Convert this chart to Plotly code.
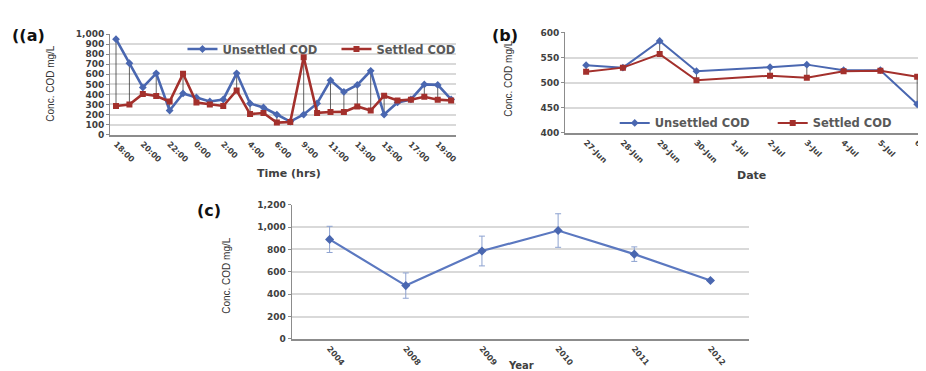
import plotly.graph_objects as go

# ---------------- data ----------------
time_labels = ["18:00", "19:00", "20:00", "21:00", "22:00", "23:00", "0:00", "1:00", "2:00",
               "3:00", "4:00", "5:00", "6:00", "8:00", "9:00", "10:00", "11:00", "12:00",
               "13:00", "14:00", "15:00", "16:00", "17:00", "18:00", "19:00", "20:00"]
unsettled_a = [950, 710, 470, 610, 240, 410, 370, 330, 350, 610, 310, 270, 200, 130,
               200, 310, 540, 425, 495, 635, 200, 320, 350, 500, 495, 350]
settled_a = [285, 300, 405, 385, 330, 605, 320, 300, 285, 440, 205, 215, 120, 125,
             770, 216, 225, 226, 280, 240, 387, 339, 348, 377, 348, 340]

dates_b = ["27-Jun", "28-Jun", "29-Jun", "30-Jun", "1-Jul", "2-Jul", "3-Jul", "4-Jul", "5-Jul", "6-Jul"]
unsettled_b = [535, 530, 583, 523, None, 531, 536, 525, 525, 457]
settled_b = [522, 530, 557, 505, None, 514, 510, 523, 524, 512]

years_c = ["2004", "2008", "2009", "2010", "2011", "2012"]
cod_c = [890, 477, 786, 969, 758, 523]
err_c = [117, 113, 133, 150, 65, 8]

# ---------------- helpers ----------------
W, H = 926, 371
def px(x):
    return x / W
def py(y):
    return 1 - y / H

BLUE = "#4a67b0"
RED = "#a3302c"
GRID = "#d9d9d9"
AXIS = "#8c8c8c"
TICKC = "#404040"
FAM = "DejaVu Sans"

fig = go.Figure()

# ---------------- panel (a) ----------------
idx_a = list(range(len(time_labels)))
hl_x, hl_y = [], []
for i, (u, s) in enumerate(zip(unsettled_a, settled_a)):
    hl_x += [i, i, None]
    hl_y += [u, s, None]
fig.add_trace(go.Scatter(x=hl_x, y=hl_y, mode="lines", line=dict(color="#3a3a3a", width=0.8),
                         showlegend=False, hoverinfo="skip", xaxis="x", yaxis="y"))
fig.add_trace(go.Scatter(x=idx_a, y=unsettled_a, mode="lines+markers", name="Unsettled COD",
                         line=dict(color=BLUE, width=2.6),
                         marker=dict(symbol="diamond", size=6, color=BLUE),
                         xaxis="x", yaxis="y", legend="legend"))
fig.add_trace(go.Scatter(x=idx_a, y=settled_a, mode="lines+markers", name="Settled COD",
                         line=dict(color=RED, width=2.6),
                         marker=dict(symbol="square", size=6, color=RED),
                         xaxis="x", yaxis="y", legend="legend"))

# ---------------- panel (b) ----------------
hb_x, hb_y = [], []
for d, u, s in zip(dates_b, unsettled_b, settled_b):
    if u is None or s is None:
        continue
    hb_x += [d, d, None]
    hb_y += [u, s, None]
fig.add_trace(go.Scatter(x=hb_x, y=hb_y, mode="lines", line=dict(color="#3a3a3a", width=0.8),
                         showlegend=False, hoverinfo="skip", xaxis="x2", yaxis="y2"))
fig.add_trace(go.Scatter(x=dates_b, y=unsettled_b, mode="lines+markers", name="Unsettled COD",
                         connectgaps=True, line=dict(color=BLUE, width=2),
                         marker=dict(symbol="diamond", size=6, color=BLUE),
                         xaxis="x2", yaxis="y2", legend="legend2"))
fig.add_trace(go.Scatter(x=dates_b, y=settled_b, mode="lines+markers", name="Settled COD",
                         connectgaps=True, line=dict(color=RED, width=2),
                         marker=dict(symbol="square", size=6, color=RED),
                         xaxis="x2", yaxis="y2", legend="legend2"))

# ---------------- panel (c) ----------------
fig.add_trace(go.Scatter(x=years_c, y=cod_c, mode="lines+markers", showlegend=False,
                         line=dict(color="#5b78c0", width=2.2),
                         marker=dict(symbol="diamond", size=7, color=BLUE),
                         error_y=dict(type="data", array=err_c, color="#8da2d0", thickness=1, width=3),
                         xaxis="x3", yaxis="y3"))

tickfont = dict(family=FAM, size=9, color=TICKC, weight="bold")
xtickfont = dict(family=FAM, size=8, color=TICKC, weight="bold")

common_y = dict(showgrid=True, gridcolor=GRID, gridwidth=1.5, showline=True, linecolor=AXIS,
                linewidth=1, ticks="outside", ticklen=3, tickcolor=AXIS, tickfont=tickfont,
                zeroline=False, fixedrange=True)
common_x = dict(showgrid=False, showline=True, linecolor=AXIS, linewidth=1.5, ticks="",
                tickfont=xtickfont, tickangle=45, zeroline=False)

legfont = dict(family=FAM, size=11.5, color="#595959", weight="bold")

fig.update_layout(
    width=W, height=H,
    margin=dict(l=0, r=0, t=0, b=0),
    paper_bgcolor="white", plot_bgcolor="white",
    font=dict(family=FAM, color=TICKC),
    xaxis=dict(common_x, domain=[px(103), px(452)], range=[-0.44, 25.37],
               tickmode="array", tickvals=idx_a[::2], ticktext=time_labels[::2], anchor="y"),
    yaxis=dict(common_y, domain=[py(125), py(21.7)], range=[0, 1000], dtick=100,
               tickformat=",d", anchor="x"),
    xaxis2=dict(common_x, domain=[px(562), 1.0], type="category", range=[-0.57, 9.24],
                categoryorder="array", categoryarray=dates_b, anchor="y2"),
    yaxis2=dict(common_y, domain=[py(123.3), py(20)], range=[400, 600], dtick=50, anchor="x2"),
    xaxis3=dict(common_x, domain=[px(286), px(747)], type="category", range=[-0.5, 5.5],
                tickangle=50, anchor="y3"),
    yaxis3=dict(common_y, domain=[py(335), py(197)], range=[0, 1200], dtick=200,
                tickformat=",d", anchor="x3"),
    legend=dict(orientation="h", x=px(176), y=py(37), xanchor="left", yanchor="middle",
                bgcolor="rgba(0,0,0,0)", font=legfont, entrywidth=109, itemwidth=30),
    legend2=dict(orientation="h", x=px(612), y=py(113), xanchor="left", yanchor="middle",
                 bgcolor="rgba(0,0,0,0)", font=legfont, entrywidth=113, itemwidth=30),
)

ann = []
def label(text, x, y, size=16, xanchor="left"):
    ann.append(dict(text=text, x=px(x), y=py(y), xref="paper", yref="paper", showarrow=False,
                    xanchor=xanchor, yanchor="middle",
                    font=dict(family=FAM, size=size, color="#111111", weight="bold")))
label("((a)", 2, 23)
label("(b)", 486, 23)
label("(c)", 189, 203)

def ytitle(x, y):
    ann.append(dict(text="Conc. COD mg/L", x=px(x), y=py(y), xref="paper", yref="paper",
                    showarrow=False, textangle=-90, xanchor="center", yanchor="middle",
                    font=dict(family="Liberation Sans", size=10, color="#333333")))
ytitle(42, 72)
ytitle(505, 67)
ytitle(221, 270)

def xtitle(text, x, y, size=11):
    ann.append(dict(text=text, x=px(x), y=py(y), xref="paper", yref="paper", showarrow=False,
                    xanchor="center", yanchor="middle",
                    font=dict(family=FAM, size=size, color="#404040", weight="bold")))
xtitle("Time (hrs)", 283, 165)
xtitle("Date", 750, 167)
xtitle("Year", 517, 362, size=10)

fig.update_layout(annotations=ann)
fig.write_html("out.html")
